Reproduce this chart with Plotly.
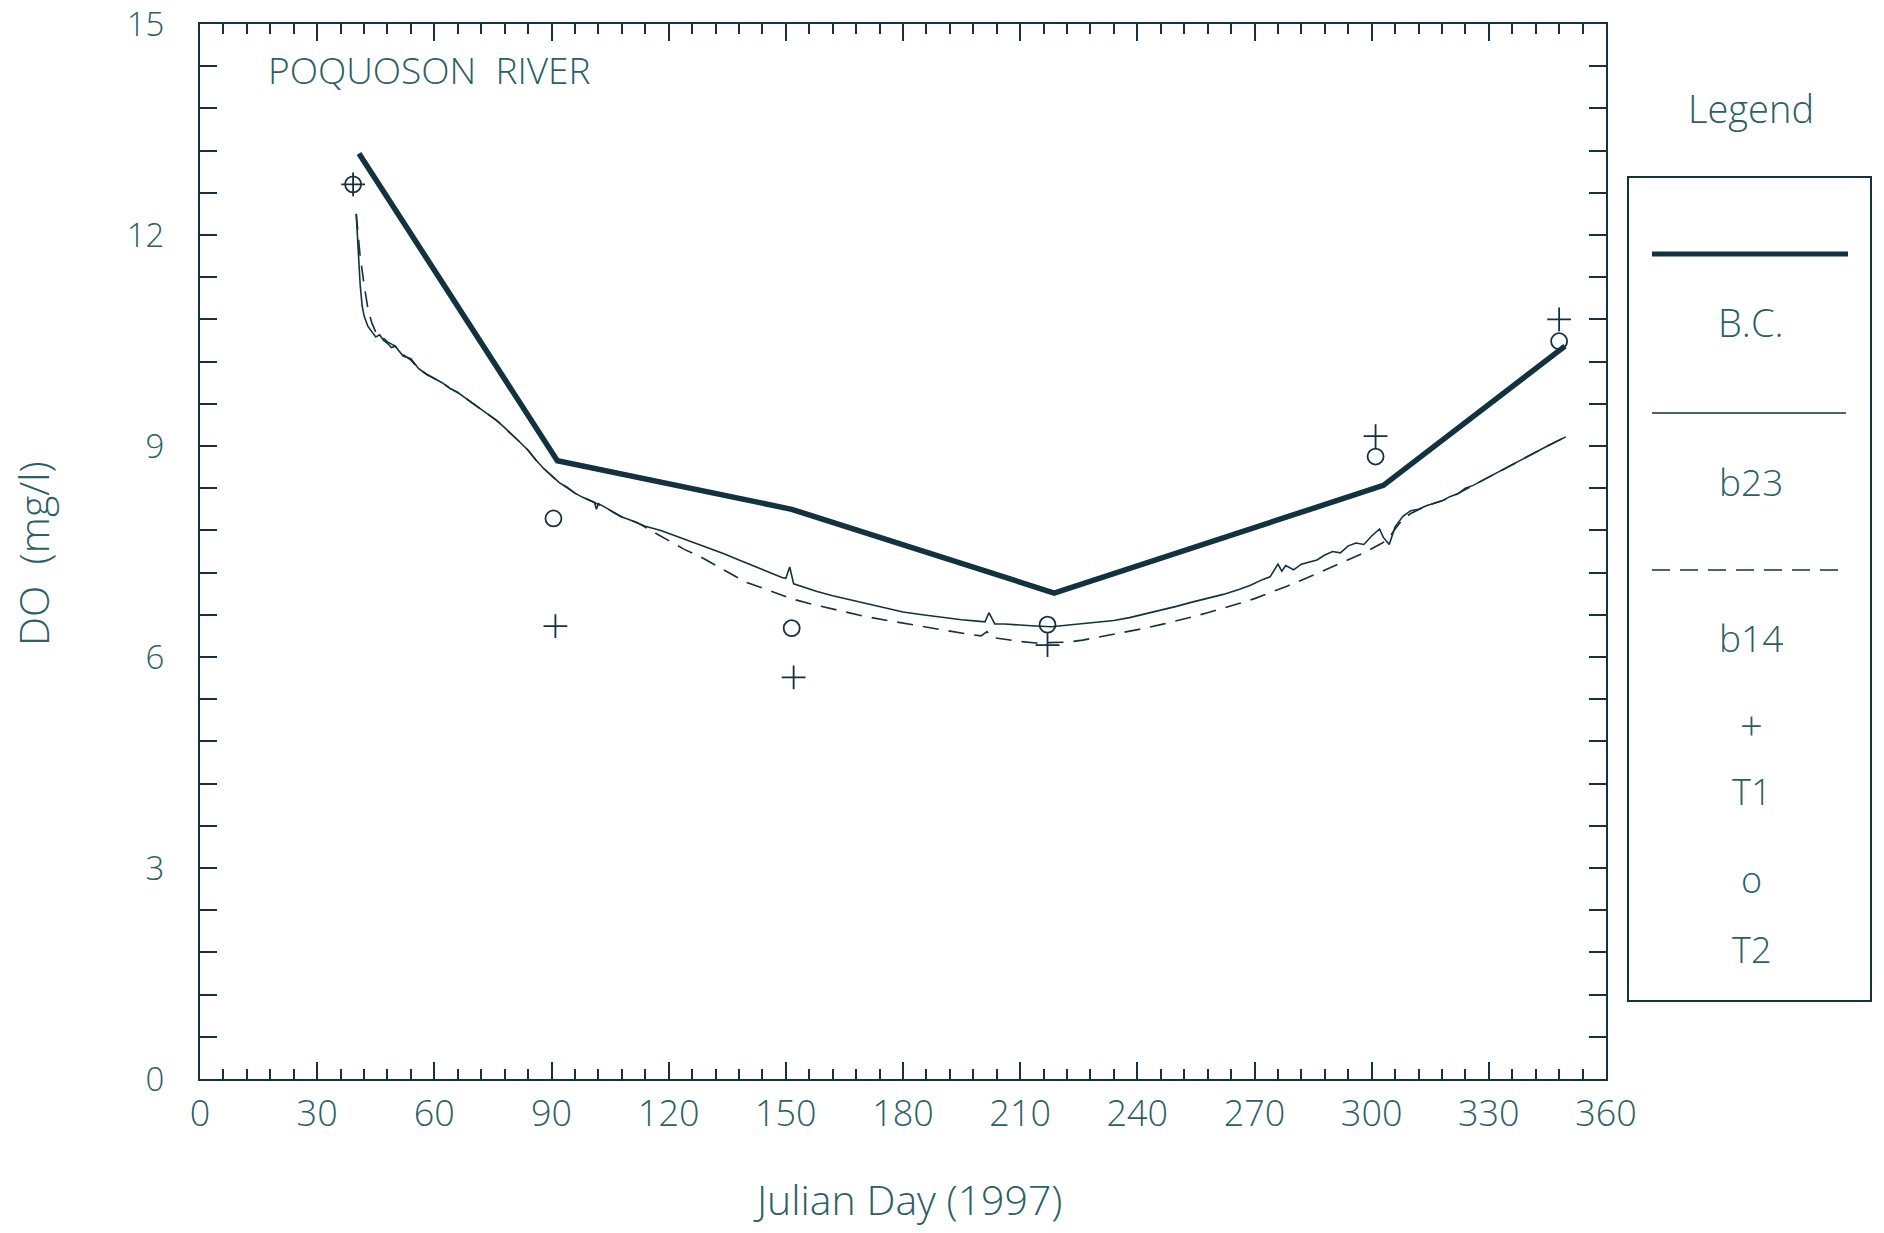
import plotly.graph_objects as go

# ---- data -------------------------------------------------------------
# boundary condition (B.C.) polyline
bc_day = [40.7, 91.5, 151.5, 218.7, 303.0, 349.5]
bc_do = [13.16, 8.79, 8.10, 6.91, 8.44, 10.42]

# model run b23
b23_day = [40, 40.5, 41, 41.5, 42, 43, 44, 45, 46, 47, 48, 49, 50, 52, 54, 56,
           58, 60, 62, 64, 66, 68, 70, 72, 74, 76, 78, 80, 82, 84, 86, 88, 90,
           92, 94, 96, 98, 100, 101, 101.5, 102, 104, 106, 108, 110, 114, 118,
           122, 126, 130, 134, 138, 142, 146, 149, 150, 151, 152, 154, 158,
           162, 166, 170, 175, 180, 185, 190, 195, 199, 201, 202, 203.5, 206,
           210, 214, 218, 222, 226, 230, 234, 238, 242, 246, 250, 254, 258,
           262, 266, 269, 272, 274, 276, 277, 278, 280, 282, 284, 286, 288,
           290, 292, 294, 296, 298, 300, 302, 303, 304.5, 306, 308, 310, 312,
           314, 316, 318, 320, 322, 324, 326, 328, 330, 335, 340, 345, 349.7]
b23_do = [12.30, 11.80, 11.30, 11.00, 10.85, 10.70, 10.62, 10.55, 10.58, 10.50,
          10.46, 10.40, 10.42, 10.28, 10.24, 10.10, 10.02, 9.96, 9.90, 9.82,
          9.76, 9.68, 9.60, 9.52, 9.44, 9.36, 9.26, 9.16, 9.05, 8.94, 8.80,
          8.68, 8.58, 8.48, 8.41, 8.33, 8.27, 8.22, 8.20, 8.10, 8.18, 8.12,
          8.05, 7.99, 7.95, 7.86, 7.80, 7.72, 7.64, 7.55, 7.47, 7.38, 7.29,
          7.20, 7.13, 7.12, 7.28, 7.04, 7.00, 6.93, 6.87, 6.82, 6.76, 6.70,
          6.64, 6.60, 6.56, 6.53, 6.51, 6.50, 6.63, 6.47, 6.47, 6.45, 6.44,
          6.43, 6.45, 6.48, 6.50, 6.52, 6.56, 6.61, 6.66, 6.72, 6.78, 6.83,
          6.89, 6.96, 7.02, 7.10, 7.14, 7.32, 7.22, 7.30, 7.24, 7.32, 7.35,
          7.38, 7.45, 7.50, 7.48, 7.58, 7.62, 7.60, 7.72, 7.82, 7.70, 7.60,
          7.85, 8.00, 8.08, 8.10, 8.15, 8.18, 8.22, 8.28, 8.32, 8.40, 8.44,
          8.50, 8.56, 8.71, 8.86, 9.00, 9.13]

# model run b14
b14_day = [40, 40.5, 41, 42, 43, 44, 45, 46, 48, 50, 52, 54, 56, 58, 60, 62,
           64, 66, 68, 70, 72, 74, 76, 78, 80, 82, 84, 86, 88, 90, 92, 94, 96,
           98, 100, 102, 104, 106, 108, 110, 112, 116, 120, 124, 128, 132, 136,
           140, 144, 148, 150, 152, 156, 160, 164, 170, 176, 180, 186, 192,
           196, 200, 201.5, 202.5, 206, 210, 214, 218, 222, 226, 230, 234, 238,
           242, 246, 250, 254, 258, 262, 266, 270, 274, 278, 282, 286, 290,
           294, 298, 302, 304, 306, 308, 310, 314, 318, 322, 326, 330, 335,
           340, 345, 349.7]
b14_do = [12.30, 11.95, 11.70, 11.30, 10.95, 10.75, 10.62, 10.58, 10.48, 10.42,
          10.30, 10.22, 10.10, 10.02, 9.96, 9.90, 9.82, 9.76, 9.68, 9.60, 9.52,
          9.44, 9.36, 9.26, 9.16, 9.05, 8.94, 8.80, 8.68, 8.58, 8.48, 8.41,
          8.33, 8.27, 8.22, 8.16, 8.12, 8.05, 7.99, 7.95, 7.91, 7.78, 7.65,
          7.53, 7.43, 7.30, 7.18, 7.06, 6.98, 6.90, 6.86, 6.82, 6.76, 6.71,
          6.66, 6.58, 6.52, 6.48, 6.42, 6.36, 6.33, 6.30, 6.36, 6.28, 6.25,
          6.22, 6.20, 6.20, 6.21, 6.24, 6.28, 6.32, 6.36, 6.41, 6.46, 6.51,
          6.57, 6.63, 6.69, 6.76, 6.83, 6.91, 7.00, 7.09, 7.19, 7.29, 7.38,
          7.48, 7.60, 7.66, 7.82, 7.96, 8.04, 8.15, 8.22, 8.32, 8.44, 8.56,
          8.71, 8.86, 9.00, 9.13]

# field observations
t1_day = [39.2, 91.0, 152.0, 217.0, 301.0, 348.0]
t1_do = [12.72, 6.44, 5.71, 6.17, 9.14, 10.80]
t2_day = [39.2, 90.5, 151.5, 217.0, 301.0, 348.0]
t2_do = [12.72, 7.97, 6.41, 6.46, 8.85, 10.49]

x_ticks = list(range(0, 361, 30))
y_ticks = [0, 3, 6, 9, 12, 15]

# ---- styling ----------------------------------------------------------
W, H = 1884, 1233
ML, MR, MT, MB = 200, 278, 24, 154
LINE = "#12323f"
TEXT = "#2a6066"
FONT = "Open Sans, DejaVu Sans, sans-serif"
WEIGHT = 300
NB = "\u00a0"

PW, PH = W - ML - MR, H - MT - MB


def px(x):
    return (x - ML) / PW


def py(y):
    return (H - MB - y) / PH


def font(size):
    return dict(family=FONT, size=size, color=TEXT, weight=WEIGHT)


fig = go.Figure()
fig.add_trace(go.Scatter(x=bc_day, y=bc_do, mode="lines", name="B.C.",
                         line=dict(color=LINE, width=5.5)))
fig.add_trace(go.Scatter(x=b23_day, y=b23_do, mode="lines", name="b23",
                         line=dict(color=LINE, width=1.6)))
fig.add_trace(go.Scatter(x=b14_day, y=b14_do, mode="lines", name="b14",
                         line=dict(color=LINE, width=1.6, dash="16px,10px")))
fig.add_trace(go.Scatter(x=t1_day, y=t1_do, mode="markers", name="T1",
                         marker=dict(symbol="cross-thin-open", size=17,
                                     color=LINE,
                                     line=dict(color=LINE, width=1.8))))
fig.add_trace(go.Scatter(x=t2_day, y=t2_do, mode="markers", name="T2",
                         marker=dict(symbol="circle-open", size=16,
                                     color=LINE,
                                     line=dict(color=LINE, width=1.8))))
# empty trace that anchors the top tick axis
fig.add_trace(go.Scatter(x=[], y=[], xaxis="x2", yaxis="y",
                         showlegend=False, hoverinfo="skip"))

tick_style = dict(ticks="inside", tickcolor=LINE, tickwidth=1.5, ticklen=17,
                  showgrid=False, zeroline=False, automargin=False)
axis_common = dict(showline=True, linecolor=LINE, linewidth=2,
                   mirror="allticks", ticklabeloverflow="allow", **tick_style)
x_minor = dict(dtick=6, ticks="inside", ticklen=10, tickcolor=LINE,
               tickwidth=1.5, showgrid=False)

fig.update_layout(
    xaxis=dict(range=[0, 360], tickvals=x_ticks, ticklabelstandoff=2,
               tickfont=font(36), minor=x_minor, **axis_common),
    xaxis2=dict(range=[0, 360], tickvals=x_ticks, overlaying="x", side="top",
                showticklabels=False, showline=True, linecolor=LINE,
                linewidth=2, minor=x_minor, **tick_style),
    yaxis=dict(range=[0, 15], tickvals=y_ticks, ticklabelstandoff=27,
               tickfont=font(33),
               minor=dict(dtick=0.6, ticks="inside", ticklen=10,
                          tickcolor=LINE, tickwidth=1.5, showgrid=False),
               **axis_common),
)

annotations = [
    dict(text="POQUOSON" + NB + NB + "RIVER", x=px(266), y=py(69),
         xanchor="left", yanchor="middle", font=font(37)),
    dict(text="Julian Day (1997)", x=px(907), y=py(1199), xanchor="center",
         yanchor="middle", font=font(41)),
    dict(text="DO" + NB + NB + "(mg/l)", x=px(33), y=py(554),
         xanchor="center", yanchor="middle", textangle=-90, font=font(41)),
    dict(text="Legend", x=px(1751), y=py(108), xanchor="center",
         yanchor="middle", font=font(38)),
]

# legend box with sample lines, symbols and labels
shapes = [
    dict(type="rect", xref="paper", yref="paper", x0=px(1628), x1=px(1871),
         y0=py(1001), y1=py(177), line=dict(color=LINE, width=2)),
    dict(type="line", xref="paper", yref="paper", x0=px(1652), x1=px(1848),
         y0=py(254), y1=py(254), line=dict(color=LINE, width=5)),
    dict(type="line", xref="paper", yref="paper", x0=px(1652), x1=px(1846),
         y0=py(413), y1=py(413), line=dict(color=LINE, width=1.6)),
    dict(type="line", xref="paper", yref="paper", x0=px(1652), x1=px(1846),
         y0=py(570), y1=py(570),
         line=dict(color=LINE, width=1.6, dash="18px,10px")),
]
legend_labels = [("B.C.", 322, 38), ("b23", 481, 37), ("b14", 637, 37),
                 ("+", 724, 40), ("T1", 791, 36), ("o", 879, 36),
                 ("T2", 949, 36)]
for txt, ypix, size in legend_labels:
    annotations.append(dict(text=txt, x=px(1751), y=py(ypix), xanchor="center",
                            yanchor="middle", font=font(size)))

for a in annotations:
    a.update(xref="paper", yref="paper", showarrow=False)

fig.update_layout(
    width=W, height=H,
    margin=dict(l=ML, r=MR, t=MT, b=MB, autoexpand=False),
    paper_bgcolor="white", plot_bgcolor="white",
    showlegend=False,
    annotations=annotations, shapes=shapes,
)

fig.write_html("out.html")
